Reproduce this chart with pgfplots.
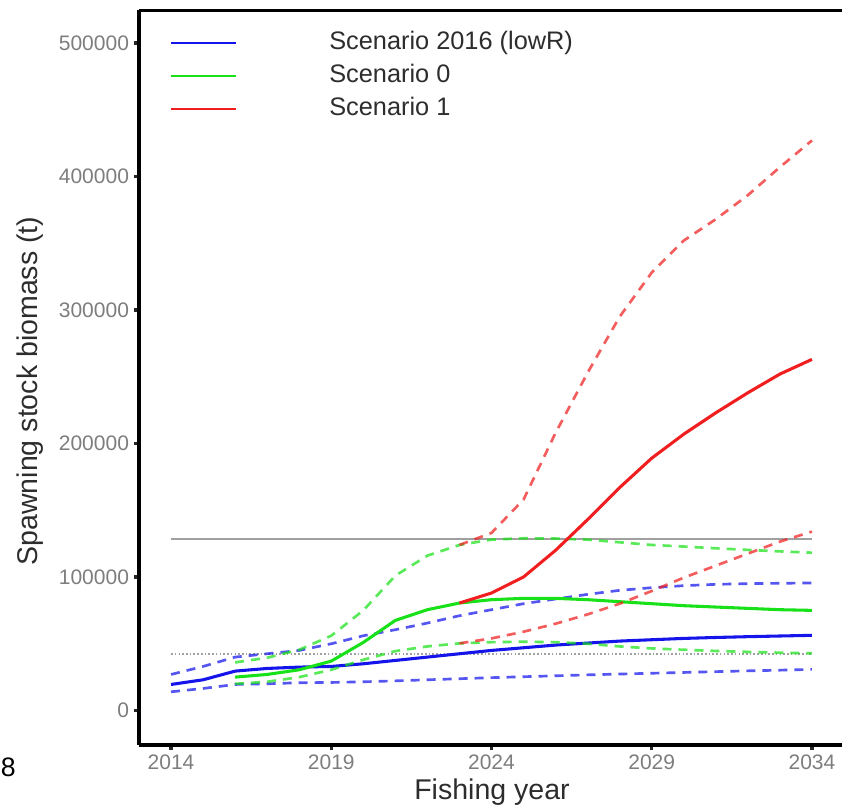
\documentclass[border=0pt]{standalone}
\usepackage{pgfplots}
\pgfplotsset{compat=1.18}
\usepackage{fontspec}
\setmainfont{Liberation Sans}

\definecolor{scblue}{RGB}{20,20,235}
\definecolor{scgreen}{RGB}{25,225,25}
\definecolor{scred}{RGB}{240,30,30}
\definecolor{refgray}{RGB}{160,160,160}
\definecolor{ticklab}{RGB}{125,125,125}
\definecolor{titlecol}{RGB}{45,45,45}

% Spawning stock biomass projections (t)
\pgfplotstableread{
year mid    lo     hi
2014 19500  14000  27000
2015 23000  16500  33000
2016 29500  19500  40000
2017 31500  20000  42500
2018 32500  20800  45000
2019 33000  21000  50000
2020 35000  21500  56000
2021 37500  22200  60500
2022 40000  23000  65500
2023 42500  23800  71000
2024 45000  24600  75500
2025 47000  25300  80000
2026 49000  26000  83500
2027 50500  26700  87000
2028 52000  27300  90000
2029 53000  27900  92000
2030 54000  28500  93500
2031 54700  29100  94500
2032 55300  29700  95000
2033 55800  30200  95300
2034 56300  30800  95500
}\lowR

\pgfplotstableread{
year mid    lo     hi
2016 25000  20000  36000
2017 27000  21500  39500
2018 30500  25000  45500
2019 37000  30500  56000
2020 51000  38000  75000
2021 67500  44500  101000
2022 75500  48000  116000
2023 80500  50300  124000
2024 83000  51200  128000
2025 84000  51500  129000
2026 84000  51200  128800
2027 83000  50000  128000
2028 81500  48000  126000
2029 80000  46500  124000
2030 78500  45500  122800
2031 77500  44600  121500
2032 76500  43900  120300
2033 75500  43300  119200
2034 75000  42800  118200
}\scenZero

\pgfplotstableread{
year mid    lo     hi
2023 80500  50300  124000
2024 88000  54000  133000
2025 100000 59000  158000
2026 120000 65000  208000
2027 143000 72000  253000
2028 167000 80000  295000
2029 189000 89500  328000
2030 207000 99500  352000
2031 223000 108500 368000
2032 238000 117500 386000
2033 252000 126500 407000
2034 263000 134000 427000
}\scenOne

\begin{document}
\begin{tikzpicture}[x=0.75pt,y=0.75pt]
\useasboundingbox (0,0) rectangle (842,806);
\begin{axis}[
  at={(104.25pt,45.75pt)}, anchor=south west,
  scale only axis, width=528.75pt, height=551.25pt,
  xmin=2013, xmax=2035, ymin=-25843, ymax=524717,
  axis lines*=left,
  axis line style={line width=2.8pt, black},
  xtick={2014,2019,2024,2029,2034},
  ytick={0,100000,200000,300000,400000,500000},
  minor tick num=0,
  tick align=outside, major tick length=4pt,
  tick style={line width=2.4pt, color=black!85},
  scaled y ticks=false,
  /pgf/number format/assume math mode=true,
  /pgf/number format/1000 sep={},
  /pgf/number format/fixed,
  ticklabel style={font=\fontsize{15.75}{18}\selectfont, text=ticklab},
  legend style={at={(0.04397,0.9701)}, anchor=north west, draw=none, fill=none,
    inner sep=0pt, outer sep=0pt, row sep=8.25pt,
    font=\fontsize{19}{23}\selectfont, text=titlecol,
    nodes={inner sep=0pt, text height=13pt, text depth=3.5pt}},
  legend cell align=left,
  legend image code/.code={%
    \draw[#1] (0pt,0pt) -- (48.75pt,0pt);
    \path[draw=none, fill=none] (0pt,0pt) -- (118.5pt,0pt);},
  every axis plot/.append style={line join=round},
  ci/.style={dash pattern=on 6.75pt off 5.25pt, line width=2pt, opacity=0.72},
]
\addlegendimage{scblue, line width=2pt}
\addlegendentry{Scenario 2016 (lowR)}
\addlegendimage{scgreen, line width=2pt}
\addlegendentry{Scenario 0}
\addlegendimage{scred, line width=2pt}
\addlegendentry{Scenario 1}

% reference levels
\addplot[forget plot, refgray, line width=1.8pt] coordinates {(2014,128500) (2034,128500)};
\addplot[forget plot, refgray, line width=1.6pt, dash pattern=on 1.2pt off 1.6pt] coordinates {(2014,42100) (2034,42100)};

% Scenario 2016 (lowR)
\addplot[forget plot, scblue, ci] table[x=year, y=hi] {\lowR};
\addplot[forget plot, scblue, ci] table[x=year, y=lo] {\lowR};
\addplot[forget plot, scblue, line width=2.3pt] table[x=year, y=mid] {\lowR};

% Scenario 0
\addplot[forget plot, scgreen, ci] table[x=year, y=hi] {\scenZero};
\addplot[forget plot, scgreen, ci] table[x=year, y=lo] {\scenZero};
\addplot[forget plot, scgreen, line width=2.3pt] table[x=year, y=mid] {\scenZero};

% Scenario 1
\addplot[forget plot, scred, ci] table[x=year, y=hi] {\scenOne};
\addplot[forget plot, scred, ci] table[x=year, y=lo] {\scenOne};
\addplot[forget plot, scred, line width=2.3pt] table[x=year, y=mid] {\scenOne};

\draw[line width=2.8pt, black] (rel axis cs:0,1) -- (rel axis cs:1,1);
\end{axis}
\node[rotate=90, anchor=base, text=titlecol, font=\fontsize{21.4}{25}\selectfont] at (37,415) {Spawning stock biomass (t)};
\node[anchor=base, text=titlecol, font=\fontsize{21.4}{25}\selectfont] at (492,6.5) {Fishing year};
\node[anchor=west, inner sep=0pt, font=\fontsize{20}{24}\selectfont] at (0.5,39) {8};
\end{tikzpicture}
\end{document}
